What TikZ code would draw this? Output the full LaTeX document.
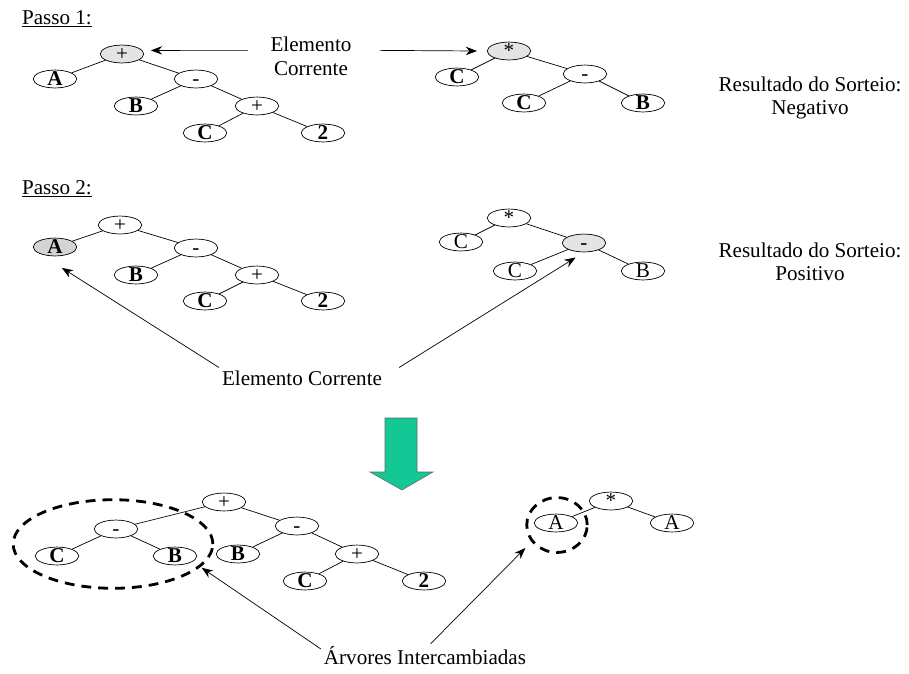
\documentclass[tikz,border=0pt]{standalone}
\usepackage{fontspec}
\setmainfont{Liberation Serif}
\usepackage{xcolor}
\usepackage{tikz}
\usetikzlibrary{arrows.meta}
\usetikzlibrary{shapes.geometric}
\definecolor{curgray}{RGB}{228,228,228}
\definecolor{dotgray}{RGB}{212,212,212}
\definecolor{downgreen}{RGB}{20,200,150}
\tikzset{
    treenode/.style = {ellipse, draw=black, line width=0.5pt, inner sep=0pt, minimum width=31pt, minimum height=11pt, text height=9pt, text depth=-2pt, font=\fontsize{15}{15}\selectfont},
    op_node/.style = {treenode},
    leaf_node/.style = {treenode, font=\fontsize{15}{15}\selectfont\bfseries},
    thin_leaf/.style = {treenode},
    cur_node/.style = {treenode, fill=curgray},
    cur_leaf/.style = {leaf_node, fill=dotgray},
    label_text/.style = {align=center, inner sep=2pt, font=\fontsize{15}{17}\selectfont},
    swap_ring/.style = {ellipse, draw=black, line width=2pt, dash pattern=on 7pt off 5pt}
}
\tikzset{
    edge/.style = {line width=0.5pt},
    pointer/.style = {line width=0.5pt, -{Stealth[length=8pt, width=6pt]}}
}

\begin{document}
\begin{tikzpicture}[x=0.025cm, y=-0.025cm]
    \useasboundingbox (0,0) rectangle (909,673);
    % Passo 1
    \node[label_text, anchor=base west] (pa1) at (19,24) {\underline{Passo 1:}};
    \node[cur_node] (a1) at (122,54) {+};
    \node[leaf_node] (a1A) at (55,79) {A};
    \node[op_node] (a1m) at (196,79) {-};
    \node[leaf_node] (a1B) at (136,106) {B};
    \node[op_node] (a1p) at (257,106) {+};
    \node[leaf_node] (a1C) at (205,133) {C};
    \node[leaf_node] (a12) at (323,133) {2};
    \node[cur_node] (b1) at (509,51) {*};
    \node[leaf_node] (b1C) at (457,77) {C};
    \node[op_node] (b1m) at (585,74) {-};
    \node[leaf_node] (b1Cb) at (524,103) {C};
    \node[leaf_node] (b1B) at (643,103) {B};
    \node[label_text] (e1) at (311,56) {Elemento\\Corrente};
    \node[label_text, font=\fontsize{15}{16}\selectfont] (res1) at (810,98) {Resultado do Sorteio:\\Negativo};
    \draw[pointer] ([shift={(-14pt,4pt)}]e1.west) -- ([xshift=6pt]a1.10);
    \draw[pointer] ([shift={(18pt,4pt)}]e1.east) -- ([xshift=-7pt]b1.west);
    % Passo 2
    \node[label_text, anchor=base west] (pa2) at (19,194) {\underline{Passo 2:}};
    \node[op_node] (a2) at (120,225) {+};
    \node[cur_leaf] (a2A) at (55,247) {A};
    \node[op_node] (a2m) at (196,248) {-};
    \node[leaf_node] (a2B) at (136,275) {B};
    \node[op_node] (a2p) at (257,275) {+};
    \node[leaf_node] (a2C) at (205,301) {C};
    \node[leaf_node] (a22) at (323,301) {2};
    \node[op_node] (b2) at (509,218) {*};
    \node[thin_leaf] (b2C) at (461,242) {C};
    \node[cur_node] (b2m) at (584,243) {-};
    \node[thin_leaf] (b2Cb) at (515,271) {C};
    \node[thin_leaf] (b2B) at (643,271) {B};
    \node[label_text, font=\fontsize{15}{16}\selectfont] (res2) at (810,262) {Resultado do Sorteio:\\Positivo};
    \node[label_text] (e2) at (302,378) {Elemento Corrente};
    \draw[pointer, shorten >=19pt] (e2.north west) -- (a2A.south west);
    \draw[pointer, shorten >=7pt] ([xshift=10pt]e2.north east) -- (b2m.south);
    % troca
    \filldraw[fill=downgreen, draw=black!60, line width=0.4pt] (385,418) -- (417,418) -- (417,472) -- (433,472) -- (402,490) -- (370,472) -- (385,472) -- cycle;
    \node[op_node] (a3) at (224,502) {+};
    \node[op_node] (a3s) at (116,529) {-};
    \node[leaf_node] (a3C) at (57,556) {C};
    \node[leaf_node] (a3B) at (175,556) {B};
    \node[op_node] (a3m) at (297,526) {-};
    \node[leaf_node] (a3Bb) at (238,554) {B};
    \node[op_node] (a3p) at (357,554) {+};
    \node[leaf_node] (a3Cb) at (305,581) {C};
    \node[leaf_node] (a32) at (424,581) {2};
    \node[op_node] (b3) at (611,501) {*};
    \node[thin_leaf] (b3A) at (556,523) {A};
    \node[thin_leaf] (b3Ab) at (672,523) {A};
    \node[swap_ring, minimum width=142pt, minimum height=63pt, outer sep=2pt] (ring1) at (113,544) {};
    \node[swap_ring, minimum width=43pt, minimum height=39pt, outer sep=7pt] (ring2) at (557,525) {};
    \node[label_text] (arv) at (425,656) {Árvores Intercambiadas};
    \draw[pointer] ([yshift=5pt]arv.west) -- (ring1.-15);
    \draw[pointer] ([xshift=4pt]arv.north) -- (ring2.216);
    % ramos
    \foreach \p/\c in {a1/a1A, a1/a1m, a1m/a1B, a1m/a1p, a1p/a1C, a1p/a12,
        b1/b1C, b1/b1m, b1m/b1Cb, b1m/b1B,
        a2/a2A, a2/a2m, a2m/a2B, a2m/a2p, a2p/a2C, a2p/a22,
        b2/b2C, b2/b2m, b2m/b2Cb, b2m/b2B,
        a3/a3s, a3/a3m, a3s/a3C, a3s/a3B, a3m/a3Bb, a3m/a3p, a3p/a3Cb, a3p/a32,
        b3/b3A, b3/b3Ab}
        \draw[edge] (\p) -- (\c);
\end{tikzpicture}
\end{document}
